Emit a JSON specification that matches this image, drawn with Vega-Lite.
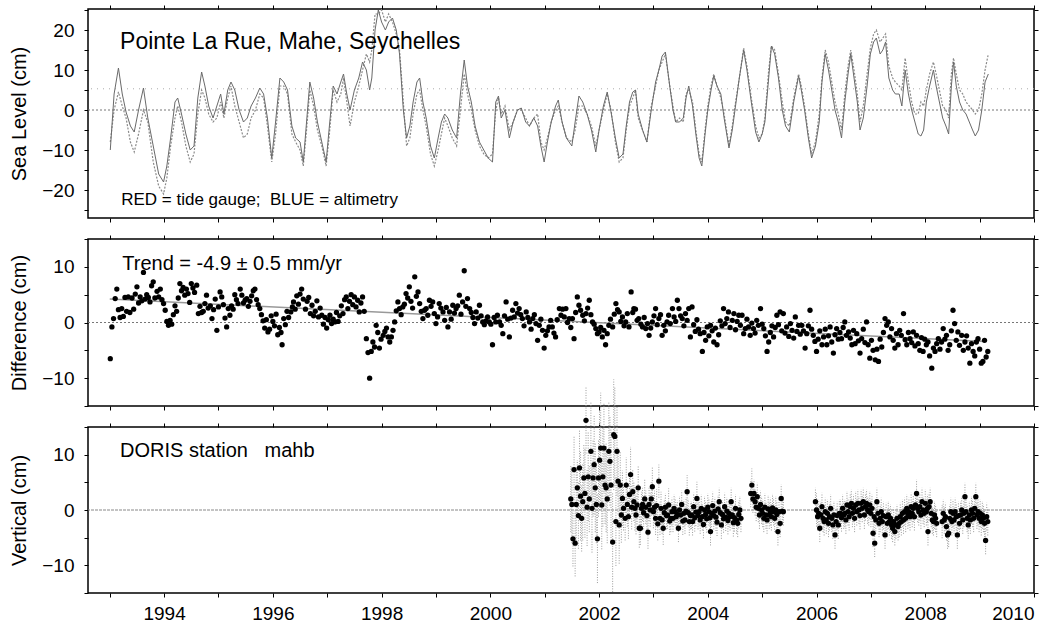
{
"$schema": "https://vega.github.io/schema/vega-lite/v6.json",
"autosize": {"type": "pad"},
"padding": {"left": 9, "top": 3, "right": 5, "bottom": 5},
"background": "white",
"bounds": "flush",
"spacing": 21,
"datasets": {
"sl": [
{"t":1993.01,"g":-10,"a":-8},{"t":1993.08,"g":4,"a":0},{"t":1993.16,"g":10.5,"a":4.5},{"t":1993.23,"g":4,"a":1},{"t":1993.3,"g":-0.5,"a":-2},{"t":1993.38,"g":-4,"a":-8},{"t":1993.45,"g":-5.5,"a":-10.5},{"t":1993.53,"g":0,"a":-6},{"t":1993.62,"g":5.5,"a":0},{"t":1993.7,"g":-2,"a":-3},{"t":1993.8,"g":-9,"a":-13},{"t":1993.9,"g":-16,"a":-19},{"t":1993.99,"g":-18,"a":-21},
{"t":1994.05,"g":-14,"a":-17},{"t":1994.12,"g":-7,"a":-9},{"t":1994.2,"g":2,"a":-2},{"t":1994.25,"g":3,"a":1},{"t":1994.32,"g":-1,"a":-3},{"t":1994.4,"g":-6,"a":-9},{"t":1994.48,"g":-10,"a":-13},{"t":1994.55,"g":-9,"a":-11},{"t":1994.62,"g":3,"a":-1},{"t":1994.69,"g":9.5,"a":5},{"t":1994.75,"g":6,"a":3},{"t":1994.82,"g":1,"a":-1},{"t":1994.9,"g":-2,"a":-3},{"t":1994.97,"g":1,"a":-2},
{"t":1995.04,"g":4,"a":2},{"t":1995.1,"g":-1,"a":-2},{"t":1995.17,"g":5,"a":3},{"t":1995.23,"g":7,"a":6},{"t":1995.3,"g":5,"a":1},{"t":1995.38,"g":0,"a":-3},{"t":1995.46,"g":-3,"a":-7},{"t":1995.53,"g":-2,"a":-6},{"t":1995.6,"g":1,"a":-2},{"t":1995.68,"g":3,"a":0},{"t":1995.76,"g":5.5,"a":4},{"t":1995.83,"g":4,"a":3},{"t":1995.9,"g":-2,"a":-4},{"t":1995.98,"g":-12,"a":-13},
{"t":1996.05,"g":-3,"a":-6},{"t":1996.13,"g":8,"a":6},{"t":1996.2,"g":7,"a":6},{"t":1996.27,"g":5,"a":4},{"t":1996.35,"g":-4,"a":-6},{"t":1996.42,"g":-7,"a":-8},{"t":1996.5,"g":-8,"a":-10},{"t":1996.56,"g":-13,"a":-14},{"t":1996.62,"g":-3,"a":-5},{"t":1996.68,"g":7,"a":5},{"t":1996.75,"g":3,"a":1},{"t":1996.82,"g":-3,"a":-5},{"t":1996.9,"g":-8,"a":-9},{"t":1996.98,"g":-13,"a":-14},
{"t":1997.04,"g":-4,"a":-6},{"t":1997.11,"g":6,"a":5},{"t":1997.18,"g":4,"a":2},{"t":1997.25,"g":7,"a":4},{"t":1997.3,"g":9,"a":8},{"t":1997.36,"g":4,"a":2},{"t":1997.42,"g":0,"a":-4},{"t":1997.5,"g":5,"a":2},{"t":1997.58,"g":8,"a":6},{"t":1997.65,"g":12,"a":10},{"t":1997.72,"g":10,"a":14},{"t":1997.78,"g":5,"a":12},{"t":1997.82,"g":8,"a":15},{"t":1997.88,"g":20,"a":24},{"t":1997.94,"g":25,"a":24},
{"t":1998.0,"g":22,"a":25},{"t":1998.07,"g":20,"a":22},{"t":1998.13,"g":22,"a":24},{"t":1998.2,"g":23,"a":22},{"t":1998.27,"g":20,"a":19},{"t":1998.33,"g":14,"a":15},{"t":1998.4,"g":0,"a":2},{"t":1998.46,"g":-7,"a":-9},{"t":1998.52,"g":-4,"a":-7},{"t":1998.58,"g":2,"a":-1},{"t":1998.65,"g":7,"a":4},{"t":1998.7,"g":8,"a":5},{"t":1998.76,"g":2,"a":0},{"t":1998.82,"g":-2,"a":-4},{"t":1998.9,"g":-9,"a":-11},{"t":1998.97,"g":-12,"a":-14},
{"t":1999.04,"g":-7,"a":-10},{"t":1999.1,"g":-3,"a":-6},{"t":1999.16,"g":-1,"a":-2},{"t":1999.22,"g":-2,"a":-4},{"t":1999.3,"g":-5,"a":-7},{"t":1999.38,"g":-7,"a":-9},{"t":1999.45,"g":4,"a":0},{"t":1999.52,"g":12.5,"a":9},{"t":1999.58,"g":6,"a":4},{"t":1999.65,"g":2,"a":0},{"t":1999.72,"g":-4,"a":-5},{"t":1999.8,"g":-8,"a":-9},{"t":1999.88,"g":-10,"a":-11},{"t":1999.96,"g":-12,"a":-12},
{"t":2000.04,"g":-13,"a":-11},{"t":2000.1,"g":2,"a":0},{"t":2000.15,"g":3.5,"a":3},{"t":2000.2,"g":-2,"a":-1},{"t":2000.27,"g":0,"a":1},{"t":2000.35,"g":-7,"a":-5},{"t":2000.42,"g":-3,"a":-3},{"t":2000.5,"g":0,"a":0},{"t":2000.57,"g":0.5,"a":0},{"t":2000.65,"g":-3,"a":-2},{"t":2000.72,"g":-4,"a":-4},{"t":2000.8,"g":-2,"a":-2},{"t":2000.87,"g":-4,"a":-1},{"t":2000.93,"g":-9,"a":-8},{"t":2000.99,"g":-13,"a":-10},
{"t":2001.05,"g":-8,"a":-7},{"t":2001.12,"g":-3,"a":-3},{"t":2001.2,"g":1,"a":0},{"t":2001.25,"g":2.5,"a":1},{"t":2001.32,"g":-3,"a":-3},{"t":2001.4,"g":-7,"a":-7},{"t":2001.5,"g":-9,"a":-8},{"t":2001.56,"g":-3,"a":-5},{"t":2001.63,"g":3.5,"a":1},{"t":2001.7,"g":2,"a":1},{"t":2001.78,"g":-1,"a":-1},{"t":2001.86,"g":-5,"a":-4},{"t":2001.94,"g":-10.5,"a":-9},
{"t":2002.0,"g":-5,"a":-5},{"t":2002.08,"g":1,"a":0},{"t":2002.15,"g":4.5,"a":4},{"t":2002.22,"g":-0.5,"a":0},{"t":2002.3,"g":-7,"a":-8},{"t":2002.37,"g":-12,"a":-13},{"t":2002.44,"g":-11,"a":-12},{"t":2002.5,"g":-4,"a":-5},{"t":2002.56,"g":2,"a":1},{"t":2002.62,"g":4.5,"a":3},{"t":2002.67,"g":5,"a":5},{"t":2002.72,"g":-1,"a":-2},{"t":2002.8,"g":-5,"a":-5},{"t":2002.88,"g":-8,"a":-8},{"t":2002.96,"g":0,"a":1},
{"t":2003.04,"g":7,"a":6},{"t":2003.1,"g":10,"a":10},{"t":2003.16,"g":13.5,"a":12},{"t":2003.22,"g":14.5,"a":14},{"t":2003.3,"g":6,"a":6},{"t":2003.36,"g":0,"a":1},{"t":2003.41,"g":-3,"a":-3},{"t":2003.48,"g":-3,"a":-2},{"t":2003.55,"g":-2,"a":-3},{"t":2003.6,"g":3,"a":4},{"t":2003.65,"g":6,"a":5},{"t":2003.72,"g":1,"a":2},{"t":2003.78,"g":-6,"a":-5},{"t":2003.84,"g":-12,"a":-11},{"t":2003.89,"g":-14,"a":-13},{"t":2003.95,"g":-6,"a":-5},
{"t":2004.0,"g":0,"a":1},{"t":2004.06,"g":5,"a":6},{"t":2004.11,"g":8.5,"a":9},{"t":2004.17,"g":6,"a":6},{"t":2004.24,"g":4,"a":3},{"t":2004.3,"g":-2,"a":-1},{"t":2004.39,"g":-9.5,"a":-9},{"t":2004.45,"g":-5,"a":-4},{"t":2004.5,"g":0,"a":1},{"t":2004.58,"g":8,"a":8},{"t":2004.66,"g":15,"a":15.5},{"t":2004.72,"g":10,"a":11},{"t":2004.8,"g":2,"a":3},{"t":2004.88,"g":-5.5,"a":-4},{"t":2004.94,"g":-8,"a":-7},
{"t":2005.0,"g":-6,"a":-6},{"t":2005.05,"g":-3,"a":-2},{"t":2005.12,"g":8,"a":10},{"t":2005.17,"g":16,"a":16},{"t":2005.23,"g":14,"a":15},{"t":2005.3,"g":8,"a":9},{"t":2005.37,"g":0,"a":2},{"t":2005.43,"g":-4,"a":-3},{"t":2005.5,"g":-5.5,"a":-4},{"t":2005.58,"g":2,"a":3},{"t":2005.67,"g":8.5,"a":9},{"t":2005.72,"g":5,"a":6},{"t":2005.78,"g":0,"a":1},{"t":2005.85,"g":-7,"a":-6},{"t":2005.91,"g":-12,"a":-11},{"t":2005.98,"g":-9,"a":-8},
{"t":2006.05,"g":-3,"a":-1},{"t":2006.1,"g":7,"a":8},{"t":2006.16,"g":14,"a":15},{"t":2006.22,"g":10,"a":12},{"t":2006.28,"g":5,"a":7},{"t":2006.34,"g":0,"a":2},{"t":2006.4,"g":-3,"a":-1},{"t":2006.46,"g":-7,"a":-5},{"t":2006.52,"g":2,"a":4},{"t":2006.58,"g":9,"a":11},{"t":2006.63,"g":14,"a":15},{"t":2006.69,"g":8,"a":10},{"t":2006.75,"g":2,"a":4},{"t":2006.8,"g":-5,"a":-3},{"t":2006.86,"g":-2,"a":1},{"t":2006.93,"g":6,"a":9},{"t":2006.99,"g":14,"a":15.5},
{"t":2007.05,"g":17,"a":19},{"t":2007.1,"g":18,"a":20},{"t":2007.17,"g":14,"a":17},{"t":2007.22,"g":15,"a":18},{"t":2007.27,"g":17,"a":19},{"t":2007.33,"g":8,"a":11},{"t":2007.4,"g":5,"a":8},{"t":2007.45,"g":4,"a":7},{"t":2007.52,"g":4,"a":6},{"t":2007.57,"g":1,"a":5},{"t":2007.63,"g":10,"a":13},{"t":2007.69,"g":4,"a":7},{"t":2007.75,"g":0,"a":2},{"t":2007.81,"g":-3,"a":-1},{"t":2007.87,"g":-6,"a":-1},{"t":2007.92,"g":-6.5,"a":2},{"t":2007.97,"g":-5,"a":1},
{"t":2008.02,"g":2,"a":5},{"t":2008.08,"g":6,"a":9},{"t":2008.15,"g":10,"a":12},{"t":2008.2,"g":6,"a":9},{"t":2008.26,"g":2,"a":5},{"t":2008.32,"g":-2,"a":1},{"t":2008.38,"g":-4,"a":0},{"t":2008.43,"g":-6,"a":-2},{"t":2008.48,"g":6,"a":9},{"t":2008.52,"g":12,"a":13},{"t":2008.57,"g":6,"a":9},{"t":2008.63,"g":2,"a":5},{"t":2008.69,"g":0,"a":4},{"t":2008.75,"g":-1,"a":2},{"t":2008.81,"g":-3,"a":1},{"t":2008.87,"g":-5,"a":0},{"t":2008.92,"g":-6.5,"a":-1},{"t":2008.98,"g":-5,"a":0},
{"t":2009.04,"g":0,"a":4},{"t":2009.1,"g":7,"a":10},{"t":2009.16,"g":9,"a":14}
],
"diff": [
{"t":1993.01,"d":-6.5},{"t":1993.04,"d":-0.8},{"t":1993.07,"d":0.7},{"t":1993.10,"d":4.3},{"t":1993.13,"d":6.0},{"t":1993.16,"d":2.3},{"t":1993.19,"d":0.9},{"t":1993.22,"d":2.5},{"t":1993.25,"d":1.1},{"t":1993.28,"d":4.5},{"t":1993.31,"d":2.0},{"t":1993.34,"d":4.6},{"t":1993.37,"d":1.8},{"t":1993.41,"d":4.4},{"t":1993.44,"d":2.4},{"t":1993.47,"d":5.1},{"t":1993.50,"d":6.4},{"t":1993.53,"d":3.5},{"t":1993.56,"d":4.6},{"t":1993.59,"d":3.9},{"t":1993.62,"d":9.0},{"t":1993.65,"d":4.2},{"t":1993.68,"d":5.0},{"t":1993.71,"d":4.5},{"t":1993.74,"d":3.7},{"t":1993.77,"d":6.6},{"t":1993.80,"d":7.3},{"t":1993.83,"d":4.4},{"t":1993.87,"d":5.6},{"t":1993.90,"d":4.6},{"t":1993.93,"d":6.0},{"t":1993.96,"d":4.1},{"t":1993.99,"d":3.4},
{"t":1994.02,"d":2.2},{"t":1994.05,"d":0.2},{"t":1994.08,"d":-0.5},{"t":1994.11,"d":0.4},{"t":1994.14,"d":-0.3},{"t":1994.17,"d":1.4},{"t":1994.20,"d":3.0},{"t":1994.23,"d":2.0},{"t":1994.26,"d":4.4},{"t":1994.29,"d":7.0},{"t":1994.32,"d":5.7},{"t":1994.35,"d":6.3},{"t":1994.38,"d":4.9},{"t":1994.41,"d":6.0},{"t":1994.44,"d":5.2},{"t":1994.47,"d":3.6},{"t":1994.50,"d":7.0},{"t":1994.53,"d":6.2},{"t":1994.56,"d":5.4},{"t":1994.60,"d":6.7},{"t":1994.63,"d":1.6},{"t":1994.66,"d":2.9},{"t":1994.69,"d":1.8},{"t":1994.72,"d":2.0},{"t":1994.75,"d":3.4},{"t":1994.78,"d":4.9},{"t":1994.81,"d":2.6},{"t":1994.85,"d":3.0},{"t":1994.88,"d":0.7},{"t":1994.91,"d":2.3},{"t":1994.94,"d":4.2},{"t":1994.97,"d":-1.4},
{"t":1995.00,"d":2.8},{"t":1995.03,"d":5.5},{"t":1995.06,"d":4.6},{"t":1995.09,"d":3.2},{"t":1995.12,"d":0.8},{"t":1995.15,"d":-0.8},{"t":1995.18,"d":2.5},{"t":1995.21,"d":1.3},{"t":1995.24,"d":3.0},{"t":1995.27,"d":2.4},{"t":1995.30,"d":5.0},{"t":1995.33,"d":4.1},{"t":1995.36,"d":3.4},{"t":1995.40,"d":6.0},{"t":1995.43,"d":4.9},{"t":1995.46,"d":3.5},{"t":1995.49,"d":4.0},{"t":1995.52,"d":4.3},{"t":1995.55,"d":2.9},{"t":1995.58,"d":3.8},{"t":1995.61,"d":4.8},{"t":1995.64,"d":5.7},{"t":1995.67,"d":6.0},{"t":1995.70,"d":4.1},{"t":1995.73,"d":3.2},{"t":1995.76,"d":2.5},{"t":1995.79,"d":1.4},{"t":1995.82,"d":0.3},{"t":1995.85,"d":-1.0},{"t":1995.88,"d":0.5},{"t":1995.91,"d":-1.7},{"t":1995.94,"d":-1.2},{"t":1995.97,"d":1.2},
{"t":1996.00,"d":0.2},{"t":1996.03,"d":-0.6},{"t":1996.06,"d":1.5},{"t":1996.09,"d":-2.2},{"t":1996.12,"d":-0.9},{"t":1996.15,"d":-1.8},{"t":1996.17,"d":-4.0},{"t":1996.20,"d":0.7},{"t":1996.23,"d":-0.4},{"t":1996.26,"d":2.0},{"t":1996.29,"d":0.9},{"t":1996.33,"d":1.9},{"t":1996.36,"d":2.8},{"t":1996.38,"d":3.7},{"t":1996.41,"d":2.4},{"t":1996.44,"d":4.8},{"t":1996.47,"d":3.3},{"t":1996.50,"d":5.1},{"t":1996.53,"d":6.0},{"t":1996.56,"d":4.2},{"t":1996.60,"d":2.4},{"t":1996.63,"d":3.8},{"t":1996.66,"d":4.5},{"t":1996.69,"d":1.6},{"t":1996.72,"d":3.1},{"t":1996.75,"d":1.2},{"t":1996.78,"d":2.0},{"t":1996.81,"d":3.9},{"t":1996.84,"d":1.0},{"t":1996.87,"d":2.6},{"t":1996.90,"d":1.3},{"t":1996.93,"d":-0.3},{"t":1996.96,"d":0.9},{"t":1996.99,"d":-1.0},
{"t":1997.02,"d":0.5},{"t":1997.05,"d":1.3},{"t":1997.08,"d":-0.2},{"t":1997.11,"d":0.6},{"t":1997.14,"d":0.1},{"t":1997.17,"d":1.8},{"t":1997.20,"d":0.2},{"t":1997.23,"d":1.2},{"t":1997.26,"d":3.0},{"t":1997.29,"d":1.6},{"t":1997.32,"d":4.1},{"t":1997.35,"d":4.6},{"t":1997.38,"d":2.5},{"t":1997.41,"d":3.8},{"t":1997.44,"d":5.0},{"t":1997.47,"d":3.2},{"t":1997.50,"d":4.6},{"t":1997.53,"d":2.8},{"t":1997.56,"d":4.0},{"t":1997.59,"d":1.9},{"t":1997.62,"d":3.5},{"t":1997.65,"d":4.6},{"t":1997.68,"d":2.0},{"t":1997.72,"d":-2.9},{"t":1997.75,"d":-5.4},{"t":1997.78,"d":-10.0},{"t":1997.81,"d":-5.2},{"t":1997.84,"d":-3.5},{"t":1997.87,"d":-4.4},{"t":1997.90,"d":-0.5},{"t":1997.93,"d":-1.8},{"t":1997.96,"d":-4.6},{"t":1997.99,"d":-3.0},
{"t":1998.03,"d":-2.3},{"t":1998.06,"d":-1.6},{"t":1998.09,"d":-1.0},{"t":1998.12,"d":-2.6},{"t":1998.15,"d":-3.5},{"t":1998.18,"d":-2.6},{"t":1998.21,"d":-1.4},{"t":1998.24,"d":0.1},{"t":1998.27,"d":2.1},{"t":1998.30,"d":3.7},{"t":1998.33,"d":2.5},{"t":1998.36,"d":1.4},{"t":1998.39,"d":2.8},{"t":1998.42,"d":3.3},{"t":1998.45,"d":5.2},{"t":1998.48,"d":4.4},{"t":1998.51,"d":6.4},{"t":1998.54,"d":3.8},{"t":1998.57,"d":2.6},{"t":1998.61,"d":8.2},{"t":1998.64,"d":4.7},{"t":1998.67,"d":5.5},{"t":1998.70,"d":3.4},{"t":1998.73,"d":2.0},{"t":1998.76,"d":0.7},{"t":1998.79,"d":2.2},{"t":1998.82,"d":2.5},{"t":1998.85,"d":1.3},{"t":1998.88,"d":4.0},{"t":1998.91,"d":2.9},{"t":1998.94,"d":3.7},{"t":1998.97,"d":1.6},{"t":1999.00,"d":-0.2},
{"t":1999.03,"d":1.0},{"t":1999.06,"d":3.4},{"t":1999.09,"d":2.6},{"t":1999.13,"d":1.9},{"t":1999.16,"d":0.4},{"t":1999.19,"d":2.7},{"t":1999.22,"d":-0.8},{"t":1999.25,"d":1.9},{"t":1999.28,"d":0.6},{"t":1999.31,"d":3.1},{"t":1999.34,"d":1.7},{"t":1999.37,"d":2.5},{"t":1999.40,"d":3.0},{"t":1999.43,"d":4.9},{"t":1999.46,"d":1.5},{"t":1999.49,"d":3.7},{"t":1999.52,"d":9.3},{"t":1999.55,"d":2.9},{"t":1999.58,"d":4.3},{"t":1999.62,"d":2.5},{"t":1999.65,"d":1.8},{"t":1999.68,"d":0.9},{"t":1999.71,"d":-0.2},{"t":1999.74,"d":1.9},{"t":1999.77,"d":0.8},{"t":1999.80,"d":3.1},{"t":1999.83,"d":1.2},{"t":1999.86,"d":0.1},{"t":1999.89,"d":-0.4},{"t":1999.92,"d":0.3},{"t":1999.95,"d":1.0},{"t":1999.98,"d":0.1},
{"t":2000.01,"d":-0.3},{"t":2000.04,"d":-4.0},{"t":2000.07,"d":0.9},{"t":2000.10,"d":0.1},{"t":2000.13,"d":1.3},{"t":2000.17,"d":0.1},{"t":2000.20,"d":-0.5},{"t":2000.23,"d":-2.0},{"t":2000.26,"d":1.2},{"t":2000.29,"d":3.7},{"t":2000.32,"d":0.6},{"t":2000.35,"d":-2.6},{"t":2000.38,"d":0.8},{"t":2000.41,"d":2.2},{"t":2000.44,"d":1.0},{"t":2000.47,"d":3.4},{"t":2000.50,"d":1.7},{"t":2000.53,"d":2.5},{"t":2000.56,"d":1.4},{"t":2000.59,"d":0.7},{"t":2000.62,"d":-0.6},{"t":2000.66,"d":1.9},{"t":2000.69,"d":0.9},{"t":2000.72,"d":0.1},{"t":2000.75,"d":-1.2},{"t":2000.78,"d":0.7},{"t":2000.81,"d":1.4},{"t":2000.84,"d":-0.2},{"t":2000.87,"d":-3.2},{"t":2000.90,"d":-0.5},{"t":2000.93,"d":0.6},{"t":2000.96,"d":-1.4},{"t":2000.99,"d":-4.6},
{"t":2001.02,"d":-2.3},{"t":2001.05,"d":-1.5},{"t":2001.08,"d":-0.8},{"t":2001.11,"d":0.4},{"t":2001.14,"d":-0.8},{"t":2001.17,"d":-1.9},{"t":2001.20,"d":-2.6},{"t":2001.23,"d":0.5},{"t":2001.27,"d":2.5},{"t":2001.30,"d":1.3},{"t":2001.33,"d":2.4},{"t":2001.36,"d":1.0},{"t":2001.39,"d":2.5},{"t":2001.42,"d":0.0},{"t":2001.45,"d":0.7},{"t":2001.48,"d":-0.9},{"t":2001.51,"d":0.7},{"t":2001.54,"d":-2.9},{"t":2001.57,"d":1.8},{"t":2001.60,"d":4.6},{"t":2001.63,"d":3.1},{"t":2001.66,"d":2.2},{"t":2001.70,"d":1.3},{"t":2001.73,"d":0.3},{"t":2001.76,"d":1.6},{"t":2001.79,"d":2.6},{"t":2001.82,"d":4.0},{"t":2001.85,"d":1.4},{"t":2001.88,"d":0.1},{"t":2001.91,"d":-0.3},{"t":2001.94,"d":-1.1},{"t":2001.97,"d":-2.0},
{"t":2002.00,"d":-1.7},{"t":2002.03,"d":-0.9},{"t":2002.06,"d":-2.6},{"t":2002.09,"d":-1.4},{"t":2002.12,"d":-4.0},{"t":2002.15,"d":-2.0},{"t":2002.18,"d":-0.5},{"t":2002.21,"d":0.6},{"t":2002.25,"d":-0.8},{"t":2002.28,"d":1.5},{"t":2002.31,"d":3.4},{"t":2002.34,"d":2.3},{"t":2002.37,"d":1.9},{"t":2002.40,"d":0.2},{"t":2002.43,"d":1.0},{"t":2002.46,"d":-0.6},{"t":2002.49,"d":0.1},{"t":2002.52,"d":1.6},{"t":2002.55,"d":-0.8},{"t":2002.59,"d":5.5},{"t":2002.62,"d":1.8},{"t":2002.64,"d":2.5},{"t":2002.67,"d":2.4},{"t":2002.70,"d":0.4},{"t":2002.73,"d":0.7},{"t":2002.77,"d":-0.3},{"t":2002.80,"d":-0.8},{"t":2002.83,"d":0.9},{"t":2002.86,"d":-1.1},{"t":2002.89,"d":-0.2},{"t":2002.92,"d":-2.3},{"t":2002.95,"d":-1.0},{"t":2002.98,"d":0.1},
{"t":2003.01,"d":1.2},{"t":2003.04,"d":2.5},{"t":2003.07,"d":-0.4},{"t":2003.10,"d":0.7},{"t":2003.13,"d":1.4},{"t":2003.16,"d":-2.3},{"t":2003.19,"d":-0.5},{"t":2003.22,"d":-1.5},{"t":2003.25,"d":0.1},{"t":2003.28,"d":1.3},{"t":2003.31,"d":-0.2},{"t":2003.35,"d":2.5},{"t":2003.38,"d":1.0},{"t":2003.41,"d":0.2},{"t":2003.44,"d":4.0},{"t":2003.47,"d":2.5},{"t":2003.50,"d":1.2},{"t":2003.53,"d":0.7},{"t":2003.56,"d":-0.6},{"t":2003.59,"d":1.6},{"t":2003.62,"d":0.4},{"t":2003.65,"d":2.5},{"t":2003.68,"d":-2.6},{"t":2003.71,"d":2.8},{"t":2003.74,"d":-0.4},{"t":2003.77,"d":-1.6},{"t":2003.80,"d":0.5},{"t":2003.83,"d":-1.2},{"t":2003.86,"d":-2.0},{"t":2003.90,"d":-5.2},{"t":2003.93,"d":-1.8},{"t":2003.96,"d":-3.2},{"t":2003.99,"d":-0.8},
{"t":2004.02,"d":-2.4},{"t":2004.05,"d":-0.5},{"t":2004.08,"d":-1.5},{"t":2004.11,"d":-3.5},{"t":2004.14,"d":-1.0},{"t":2004.17,"d":-4.0},{"t":2004.20,"d":-2.2},{"t":2004.23,"d":0.3},{"t":2004.26,"d":-0.6},{"t":2004.29,"d":2.5},{"t":2004.32,"d":-0.2},{"t":2004.35,"d":0.7},{"t":2004.38,"d":1.9},{"t":2004.41,"d":-0.9},{"t":2004.45,"d":0.4},{"t":2004.48,"d":1.6},{"t":2004.51,"d":-1.3},{"t":2004.54,"d":0.2},{"t":2004.57,"d":1.3},{"t":2004.60,"d":-0.5},{"t":2004.63,"d":1.3},{"t":2004.66,"d":-2.0},{"t":2004.69,"d":-1.1},{"t":2004.72,"d":0.6},{"t":2004.75,"d":-0.8},{"t":2004.78,"d":-2.3},{"t":2004.81,"d":-0.1},{"t":2004.84,"d":-1.1},{"t":2004.87,"d":-1.9},{"t":2004.90,"d":0.4},{"t":2004.93,"d":-0.5},{"t":2004.97,"d":2.5},
{"t":2005.00,"d":-0.3},{"t":2005.03,"d":-1.1},{"t":2005.06,"d":-2.4},{"t":2005.09,"d":-5.2},{"t":2005.12,"d":-3.5},{"t":2005.15,"d":-1.8},{"t":2005.18,"d":-0.6},{"t":2005.21,"d":-2.6},{"t":2005.24,"d":-0.9},{"t":2005.27,"d":1.3},{"t":2005.30,"d":-0.4},{"t":2005.33,"d":1.9},{"t":2005.36,"d":-1.5},{"t":2005.39,"d":1.6},{"t":2005.42,"d":-1.9},{"t":2005.45,"d":-0.8},{"t":2005.49,"d":-2.5},{"t":2005.52,"d":-0.2},{"t":2005.55,"d":-1.4},{"t":2005.58,"d":-2.8},{"t":2005.61,"d":1.0},{"t":2005.64,"d":-1.6},{"t":2005.67,"d":-0.5},{"t":2005.70,"d":-2.1},{"t":2005.73,"d":-0.5},{"t":2005.76,"d":-1.5},{"t":2005.79,"d":-4.6},{"t":2005.82,"d":-2.0},{"t":2005.85,"d":-0.6},{"t":2005.88,"d":2.2},{"t":2005.91,"d":-1.2},{"t":2005.94,"d":-2.3},{"t":2005.97,"d":-3.4},
{"t":2006.00,"d":-5.2},{"t":2006.03,"d":-3.0},{"t":2006.06,"d":-1.5},{"t":2006.10,"d":-4.0},{"t":2006.13,"d":-2.6},{"t":2006.16,"d":-1.2},{"t":2006.19,"d":-4.0},{"t":2006.22,"d":-2.4},{"t":2006.25,"d":-0.8},{"t":2006.28,"d":-3.5},{"t":2006.31,"d":-5.5},{"t":2006.34,"d":-2.2},{"t":2006.37,"d":-1.1},{"t":2006.40,"d":-3.0},{"t":2006.43,"d":-1.8},{"t":2006.46,"d":-2.9},{"t":2006.49,"d":-0.9},{"t":2006.52,"d":0.1},{"t":2006.55,"d":-2.3},{"t":2006.59,"d":-1.7},{"t":2006.62,"d":-2.8},{"t":2006.65,"d":-4.0},{"t":2006.68,"d":-1.4},{"t":2006.71,"d":-3.8},{"t":2006.74,"d":-2.0},{"t":2006.77,"d":-3.3},{"t":2006.80,"d":-5.5},{"t":2006.83,"d":-2.9},{"t":2006.86,"d":-1.2},{"t":2006.89,"d":-3.6},{"t":2006.92,"d":0.1},{"t":2006.95,"d":-4.0},{"t":2006.98,"d":-6.4},
{"t":2007.01,"d":-3.2},{"t":2007.04,"d":-5.0},{"t":2007.08,"d":-6.7},{"t":2007.11,"d":-4.8},{"t":2007.14,"d":-7.0},{"t":2007.17,"d":-3.0},{"t":2007.20,"d":-4.4},{"t":2007.23,"d":-1.8},{"t":2007.26,"d":0.7},{"t":2007.29,"d":-0.5},{"t":2007.32,"d":0.1},{"t":2007.35,"d":-2.6},{"t":2007.38,"d":-1.1},{"t":2007.41,"d":-3.2},{"t":2007.44,"d":-4.6},{"t":2007.47,"d":-2.0},{"t":2007.50,"d":-4.0},{"t":2007.53,"d":-1.4},{"t":2007.56,"d":-2.3},{"t":2007.60,"d":1.6},{"t":2007.63,"d":-3.1},{"t":2007.66,"d":-4.0},{"t":2007.69,"d":-1.8},{"t":2007.72,"d":-2.9},{"t":2007.75,"d":-3.6},{"t":2007.78,"d":-1.7},{"t":2007.81,"d":-4.2},{"t":2007.84,"d":-2.3},{"t":2007.87,"d":-3.8},{"t":2007.90,"d":-5.0},{"t":2007.93,"d":-2.7},{"t":2007.96,"d":-5.2},{"t":2007.99,"d":-3.0},
{"t":2008.02,"d":-4.0},{"t":2008.05,"d":-3.5},{"t":2008.08,"d":-6.0},{"t":2008.12,"d":-8.2},{"t":2008.15,"d":-4.6},{"t":2008.18,"d":-5.2},{"t":2008.21,"d":-3.8},{"t":2008.24,"d":-2.9},{"t":2008.27,"d":-4.8},{"t":2008.30,"d":-3.5},{"t":2008.33,"d":-1.1},{"t":2008.36,"d":-3.0},{"t":2008.39,"d":-2.3},{"t":2008.42,"d":-5.0},{"t":2008.45,"d":-4.0},{"t":2008.48,"d":-1.5},{"t":2008.51,"d":2.2},{"t":2008.54,"d":-0.2},{"t":2008.57,"d":-3.2},{"t":2008.60,"d":-1.7},{"t":2008.63,"d":-4.1},{"t":2008.67,"d":-2.3},{"t":2008.70,"d":-5.0},{"t":2008.73,"d":-3.5},{"t":2008.76,"d":-2.4},{"t":2008.79,"d":-4.6},{"t":2008.82,"d":-7.3},{"t":2008.85,"d":-3.8},{"t":2008.88,"d":-5.2},{"t":2008.91,"d":-6.0},{"t":2008.94,"d":-3.5},{"t":2008.97,"d":-2.9},{"t":2009.00,"d":-4.8},
{"t":2009.03,"d":-7.3},{"t":2009.06,"d":-7.0},{"t":2009.09,"d":-3.2},{"t":2009.12,"d":-6.2},{"t":2009.15,"d":-5.2}
],
"trend": [{"t":1993.0,"d":4.2},{"t":2009.1,"d":-3.4}],
"doris": [
{"t":2001.48,"v":2.0,"e":6},{"t":2001.50,"v":1.0,"e":7},{"t":2001.52,"v":-5.2,"e":5},{"t":2001.54,"v":7.3,"e":6},{"t":2001.56,"v":-6.0,"e":6},{"t":2001.58,"v":1.0,"e":7},{"t":2001.60,"v":4.0,"e":5},{"t":2001.62,"v":-1.0,"e":6},{"t":2001.64,"v":7.6,"e":7},{"t":2001.66,"v":2.5,"e":8},{"t":2001.68,"v":-1.5,"e":6},{"t":2001.70,"v":1.5,"e":7},{"t":2001.72,"v":5.8,"e":6},{"t":2001.74,"v":3.0,"e":8},{"t":2001.76,"v":16.2,"e":6},{"t":2001.78,"v":0.5,"e":7},{"t":2001.80,"v":6.0,"e":8},{"t":2001.82,"v":2.0,"e":6},{"t":2001.85,"v":10.6,"e":9},{"t":2001.87,"v":0.3,"e":8},{"t":2001.89,"v":5.8,"e":7},{"t":2001.91,"v":8.2,"e":9},{"t":2001.93,"v":4.0,"e":8},{"t":2001.95,"v":1.0,"e":7},{"t":2001.97,"v":-5.2,"e":8},{"t":2001.99,"v":5.8,"e":7},
{"t":2002.01,"v":9.0,"e":9},{"t":2002.03,"v":11.2,"e":10},{"t":2002.05,"v":0.9,"e":8},{"t":2002.07,"v":6.0,"e":9},{"t":2002.09,"v":11.2,"e":8},{"t":2002.11,"v":4.5,"e":7},{"t":2002.13,"v":4.0,"e":8},{"t":2002.15,"v":2.0,"e":8},{"t":2002.18,"v":10.6,"e":9},{"t":2002.20,"v":8.8,"e":8},{"t":2002.22,"v":4.5,"e":10},{"t":2002.25,"v":-5.8,"e":9},{"t":2002.27,"v":13.6,"e":10},{"t":2002.29,"v":13.3,"e":9},{"t":2002.31,"v":-2.1,"e":8},{"t":2002.33,"v":10.6,"e":8},{"t":2002.35,"v":5.2,"e":6},{"t":2002.37,"v":-2.7,"e":7},{"t":2002.39,"v":4.5,"e":6},{"t":2002.41,"v":-0.9,"e":5},{"t":2002.43,"v":2.1,"e":5},{"t":2002.45,"v":0.3,"e":4},{"t":2002.48,"v":-1.5,"e":4},{"t":2002.50,"v":4.5,"e":5},{"t":2002.52,"v":1.0,"e":4},{"t":2002.54,"v":-1.2,"e":4},{"t":2002.56,"v":2.8,"e":4},{"t":2002.58,"v":6.4,"e":5},{"t":2002.60,"v":0.5,"e":4},{"t":2002.62,"v":3.3,"e":4},{"t":2002.64,"v":1.5,"e":3.5},{"t":2002.66,"v":0.3,"e":4},{"t":2002.68,"v":-0.9,"e":3.5},{"t":2002.70,"v":0.9,"e":3.5},{"t":2002.72,"v":4.0,"e":4},{"t":2002.74,"v":-3.3,"e":3.5},{"t":2002.76,"v":-3.3,"e":3},{"t":2002.78,"v":0.3,"e":3},{"t":2002.80,"v":1.0,"e":3},{"t":2002.82,"v":-0.5,"e":3},{"t":2002.84,"v":2.0,"e":3.5},{"t":2002.86,"v":0.5,"e":3},{"t":2002.88,"v":-1.0,"e":3},{"t":2002.90,"v":-4.0,"e":3},{"t":2002.92,"v":1.0,"e":3},{"t":2002.94,"v":0.0,"e":3},{"t":2002.96,"v":2.0,"e":3},{"t":2002.98,"v":4.2,"e":3.5},
{"t":2003.00,"v":-0.3,"e":3},{"t":2003.02,"v":0.5,"e":3},{"t":2003.04,"v":-1.5,"e":3},{"t":2003.06,"v":0.8,"e":3},{"t":2003.08,"v":-2.5,"e":3},{"t":2003.10,"v":5.2,"e":3},{"t":2003.12,"v":-1.5,"e":3},{"t":2003.14,"v":0.3,"e":3},{"t":2003.16,"v":-1.8,"e":2.5},{"t":2003.18,"v":-3.3,"e":3},{"t":2003.20,"v":-0.5,"e":2.5},{"t":2003.22,"v":0.5,"e":2.5},{"t":2003.24,"v":-1.0,"e":2.5},{"t":2003.26,"v":-0.9,"e":2.5},{"t":2003.28,"v":0.9,"e":3},{"t":2003.30,"v":-2.0,"e":2.5},{"t":2003.32,"v":-1.5,"e":2.5},{"t":2003.34,"v":-0.3,"e":2.5},{"t":2003.36,"v":-1.5,"e":2.5},{"t":2003.38,"v":0.3,"e":2.5},{"t":2003.40,"v":-0.3,"e":2.5},{"t":2003.42,"v":-1.2,"e":2.5},{"t":2003.44,"v":-0.8,"e":2.5},{"t":2003.46,"v":-3.3,"e":2.5},{"t":2003.48,"v":0.0,"e":2.5},{"t":2003.50,"v":-0.9,"e":2.5},{"t":2003.52,"v":1.0,"e":2.5},{"t":2003.54,"v":-2.0,"e":2.5},{"t":2003.56,"v":-0.6,"e":2.5},{"t":2003.58,"v":-1.8,"e":2.5},{"t":2003.60,"v":-0.2,"e":2.5},{"t":2003.62,"v":3.3,"e":3},{"t":2003.64,"v":-0.5,"e":2.5},{"t":2003.66,"v":-2.1,"e":2.5},{"t":2003.68,"v":-1.0,"e":2.5},{"t":2003.70,"v":-0.9,"e":2.5},{"t":2003.72,"v":-2.1,"e":2.5},{"t":2003.74,"v":0.6,"e":2.5},{"t":2003.76,"v":-1.4,"e":2.5},{"t":2003.78,"v":-0.4,"e":2.5},{"t":2003.80,"v":2.1,"e":3},{"t":2003.82,"v":-1.0,"e":2.5},{"t":2003.84,"v":-0.3,"e":2.5},{"t":2003.86,"v":-1.8,"e":2.5},{"t":2003.88,"v":0.3,"e":2.5},{"t":2003.90,"v":-1.2,"e":2.5},{"t":2003.92,"v":-2.6,"e":2.5},{"t":2003.94,"v":0.0,"e":2.5},{"t":2003.96,"v":-0.8,"e":2.5},{"t":2003.98,"v":-1.6,"e":2.5},
{"t":2004.00,"v":0.5,"e":2.5},{"t":2004.02,"v":-0.3,"e":2.5},{"t":2004.04,"v":-1.4,"e":2.5},{"t":2004.05,"v":-3.9,"e":2.5},{"t":2004.07,"v":-0.6,"e":2.5},{"t":2004.09,"v":0.8,"e":2.5},{"t":2004.11,"v":-1.0,"e":2.5},{"t":2004.13,"v":-0.2,"e":2.5},{"t":2004.15,"v":-1.3,"e":2.5},{"t":2004.17,"v":-2.2,"e":2.5},{"t":2004.19,"v":0.2,"e":2.5},{"t":2004.21,"v":1.5,"e":2.5},{"t":2004.23,"v":-0.5,"e":2.5},{"t":2004.25,"v":-2.7,"e":2.5},{"t":2004.27,"v":-0.8,"e":2.5},{"t":2004.29,"v":-1.6,"e":2.5},{"t":2004.31,"v":0.6,"e":2.5},{"t":2004.33,"v":-1.3,"e":2.5},{"t":2004.35,"v":-0.2,"e":2.5},{"t":2004.37,"v":-1.9,"e":2.5},{"t":2004.39,"v":-0.6,"e":2.5},{"t":2004.41,"v":-1.2,"e":2.5},{"t":2004.43,"v":1.5,"e":2.5},{"t":2004.45,"v":-0.9,"e":2.5},{"t":2004.47,"v":-2.3,"e":2.5},{"t":2004.49,"v":-1.4,"e":2.5},{"t":2004.51,"v":0.3,"e":2.5},{"t":2004.53,"v":-1.8,"e":2.5},{"t":2004.55,"v":-2.4,"e":2.5},{"t":2004.57,"v":-0.8,"e":2.5},{"t":2004.59,"v":0.0,"e":2.5},{"t":2004.61,"v":-1.5,"e":2.5},
{"t":2004.79,"v":3.0,"e":2.5},{"t":2004.81,"v":4.5,"e":3},{"t":2004.83,"v":2.0,"e":2.5},{"t":2004.85,"v":3.0,"e":2.5},{"t":2004.87,"v":1.5,"e":2.5},{"t":2004.89,"v":0.5,"e":2.5},{"t":2004.91,"v":2.4,"e":2.5},{"t":2004.93,"v":0.3,"e":2.5},{"t":2004.95,"v":-0.9,"e":2.5},{"t":2004.97,"v":1.0,"e":2.5},{"t":2004.99,"v":0.0,"e":2.5},{"t":2005.01,"v":-0.6,"e":2.5},{"t":2005.03,"v":-1.5,"e":2.5},{"t":2005.05,"v":0.5,"e":2.5},{"t":2005.07,"v":-0.9,"e":2.5},{"t":2005.09,"v":-1.8,"e":2.5},{"t":2005.11,"v":0.2,"e":2.5},{"t":2005.13,"v":-0.9,"e":2.5},{"t":2005.15,"v":-0.3,"e":2.5},{"t":2005.17,"v":-1.2,"e":2.5},{"t":2005.19,"v":0.4,"e":2.5},{"t":2005.21,"v":-0.3,"e":2.5},{"t":2005.23,"v":-1.5,"e":2.5},{"t":2005.25,"v":0.0,"e":2.5},{"t":2005.27,"v":-0.8,"e":2.5},{"t":2005.29,"v":-3.9,"e":2.5},{"t":2005.31,"v":-0.3,"e":2.5},{"t":2005.33,"v":-2.4,"e":2.5},{"t":2005.35,"v":2.1,"e":2.5},{"t":2005.37,"v":-0.2,"e":2.5},{"t":2005.39,"v":-0.3,"e":2.5},
{"t":2005.98,"v":1.5,"e":2.5},{"t":2006.00,"v":0.0,"e":3},{"t":2006.02,"v":-1.2,"e":2.5},{"t":2006.04,"v":-0.6,"e":2.5},{"t":2006.06,"v":-3.3,"e":2.5},{"t":2006.08,"v":-0.9,"e":2.5},{"t":2006.10,"v":0.6,"e":2.5},{"t":2006.12,"v":-1.5,"e":2.5},{"t":2006.14,"v":-2.1,"e":2.5},{"t":2006.16,"v":-0.3,"e":2.5},{"t":2006.18,"v":-1.8,"e":2.5},{"t":2006.20,"v":-0.6,"e":2.5},{"t":2006.22,"v":-2.4,"e":2.5},{"t":2006.24,"v":-1.2,"e":2.5},{"t":2006.26,"v":0.3,"e":2.5},{"t":2006.28,"v":-1.5,"e":2.5},{"t":2006.30,"v":-2.7,"e":2.5},{"t":2006.32,"v":-0.9,"e":2.5},{"t":2006.34,"v":-4.5,"e":2.5},{"t":2006.36,"v":-2.1,"e":2.5},{"t":2006.38,"v":-1.0,"e":2.5},{"t":2006.40,"v":-2.7,"e":2.5},{"t":2006.42,"v":-0.6,"e":2.5},{"t":2006.44,"v":-0.6,"e":2.5},{"t":2006.46,"v":-1.4,"e":2.5},{"t":2006.48,"v":0.3,"e":2.5},{"t":2006.50,"v":-0.9,"e":2.5},{"t":2006.52,"v":-0.6,"e":2.5},{"t":2006.54,"v":-1.8,"e":2.5},{"t":2006.56,"v":0.9,"e":2.5},{"t":2006.58,"v":-0.3,"e":2.5},{"t":2006.60,"v":-1.2,"e":2.5},{"t":2006.62,"v":0.6,"e":2.5},{"t":2006.64,"v":1.2,"e":2.5},{"t":2006.66,"v":-0.6,"e":2.5},{"t":2006.68,"v":0.3,"e":2.5},{"t":2006.70,"v":-1.5,"e":2.5},{"t":2006.72,"v":0.9,"e":2.5},{"t":2006.74,"v":-0.3,"e":2.5},{"t":2006.76,"v":1.2,"e":2.5},{"t":2006.78,"v":0.0,"e":2.5},{"t":2006.80,"v":-1.0,"e":2.5},{"t":2006.82,"v":1.2,"e":2.5},{"t":2006.84,"v":0.3,"e":2.5},{"t":2006.86,"v":1.5,"e":2.5},{"t":2006.88,"v":-0.9,"e":2.5},{"t":2006.90,"v":0.6,"e":2.5},{"t":2006.92,"v":1.2,"e":2.5},{"t":2006.94,"v":0.0,"e":2.5},{"t":2006.96,"v":-0.3,"e":2.5},{"t":2006.98,"v":0.9,"e":2.5},
{"t":2007.00,"v":-0.6,"e":2.5},{"t":2007.02,"v":0.3,"e":2.5},{"t":2007.04,"v":-4.2,"e":2.5},{"t":2007.06,"v":-1.2,"e":2.5},{"t":2007.07,"v":-6.0,"e":2.5},{"t":2007.09,"v":-1.8,"e":2.5},{"t":2007.11,"v":1.5,"e":2.5},{"t":2007.13,"v":-0.6,"e":2.5},{"t":2007.15,"v":-2.4,"e":2.5},{"t":2007.17,"v":-1.5,"e":2.5},{"t":2007.19,"v":-0.3,"e":2.5},{"t":2007.21,"v":-2.1,"e":2.5},{"t":2007.23,"v":-1.0,"e":2.5},{"t":2007.26,"v":-4.5,"e":2.5},{"t":2007.28,"v":-1.2,"e":2.5},{"t":2007.30,"v":-2.4,"e":2.5},{"t":2007.32,"v":-0.9,"e":2.5},{"t":2007.34,"v":-2.1,"e":2.5},{"t":2007.36,"v":-1.5,"e":2.5},{"t":2007.38,"v":-2.7,"e":2.5},{"t":2007.40,"v":-3.3,"e":2.5},{"t":2007.42,"v":-2.1,"e":2.5},{"t":2007.44,"v":-3.9,"e":2.5},{"t":2007.46,"v":-2.7,"e":2.5},{"t":2007.48,"v":-1.5,"e":2.5},{"t":2007.50,"v":-3.0,"e":2.5},{"t":2007.52,"v":-2.4,"e":2.5},{"t":2007.54,"v":-1.2,"e":2.5},{"t":2007.56,"v":-2.1,"e":2.5},{"t":2007.58,"v":-0.6,"e":2.5},{"t":2007.60,"v":-1.8,"e":2.5},{"t":2007.62,"v":-0.3,"e":2.5},{"t":2007.64,"v":-1.5,"e":2.5},{"t":2007.66,"v":0.3,"e":2.5},{"t":2007.68,"v":-0.9,"e":2.5},{"t":2007.70,"v":-0.3,"e":2.5},{"t":2007.72,"v":-1.2,"e":2.5},{"t":2007.74,"v":0.6,"e":2.5},{"t":2007.76,"v":-0.6,"e":2.5},{"t":2007.78,"v":0.3,"e":2.5},{"t":2007.80,"v":-1.2,"e":2.5},{"t":2007.82,"v":0.9,"e":2.5},{"t":2007.84,"v":3.0,"e":2.5},{"t":2007.86,"v":0.3,"e":2.5},{"t":2007.88,"v":-0.3,"e":2.5},{"t":2007.90,"v":0.6,"e":2.5},{"t":2007.92,"v":-0.9,"e":2.5},{"t":2007.94,"v":1.5,"e":2.5},{"t":2007.96,"v":0.0,"e":2.5},{"t":2007.98,"v":-0.6,"e":2.5},
{"t":2008.00,"v":1.2,"e":2.5},{"t":2008.02,"v":-0.3,"e":2.5},{"t":2008.04,"v":0.3,"e":2.5},{"t":2008.05,"v":-3.9,"e":2.5},{"t":2008.07,"v":0.6,"e":2.5},{"t":2008.09,"v":1.5,"e":2.5},{"t":2008.11,"v":-0.6,"e":2.5},{"t":2008.13,"v":-1.8,"e":2.5},{"t":2008.15,"v":-2.1,"e":2.5},{"t":2008.17,"v":-0.9,"e":2.5},{"t":2008.19,"v":-1.5,"e":2.5},{"t":2008.21,"v":-2.4,"e":2.5},{"t":2008.31,"v":-2.1,"e":3},{"t":2008.33,"v":-0.6,"e":2.5},{"t":2008.35,"v":-1.8,"e":2.5},{"t":2008.37,"v":-1.2,"e":2.5},{"t":2008.39,"v":-3.0,"e":2.5},{"t":2008.41,"v":-4.5,"e":2.5},{"t":2008.43,"v":-4.2,"e":2.5},{"t":2008.45,"v":-1.5,"e":2.5},{"t":2008.47,"v":-0.3,"e":2.5},{"t":2008.49,"v":-2.1,"e":2.5},{"t":2008.51,"v":-0.6,"e":2.5},{"t":2008.53,"v":-1.8,"e":2.5},{"t":2008.55,"v":-0.3,"e":2.5},{"t":2008.57,"v":-1.2,"e":2.5},{"t":2008.59,"v":-4.5,"e":2.5},{"t":2008.61,"v":-1.0,"e":2.5},{"t":2008.63,"v":-2.4,"e":2.5},{"t":2008.65,"v":-0.9,"e":2.5},{"t":2008.67,"v":0.0,"e":2.5},{"t":2008.69,"v":-1.8,"e":2.5},{"t":2008.71,"v":-0.6,"e":2.5},{"t":2008.73,"v":2.4,"e":2.5},{"t":2008.75,"v":-0.3,"e":2.5},{"t":2008.77,"v":-1.5,"e":2.5},{"t":2008.79,"v":-2.7,"e":2.5},{"t":2008.81,"v":-0.9,"e":2.5},{"t":2008.83,"v":-1.8,"e":2.5},{"t":2008.85,"v":0.0,"e":2.5},{"t":2008.87,"v":-0.6,"e":2.5},{"t":2008.89,"v":-1.5,"e":2.5},{"t":2008.91,"v":0.3,"e":2.5},{"t":2008.93,"v":2.4,"e":2.5},{"t":2008.95,"v":-0.9,"e":2.5},{"t":2008.97,"v":-0.3,"e":2.5},{"t":2008.99,"v":-1.5,"e":2.5},
{"t":2009.01,"v":-0.6,"e":2.5},{"t":2009.03,"v":-2.1,"e":2.5},{"t":2009.05,"v":-0.9,"e":2.5},{"t":2009.07,"v":-1.5,"e":2.5},{"t":2009.09,"v":-2.4,"e":2.5},{"t":2009.11,"v":-5.5,"e":2.5},{"t":2009.13,"v":-1.2,"e":2.5},{"t":2009.15,"v":-2.1,"e":2.5}
]
},
"vconcat": [
{
"width": 946, "height": 209,
"resolve": {"axis": {"x": "independent", "y": "independent"}},
"layer": [
{"data": {"values": [{}]}, "mark": {"type": "rule", "color": "#777", "strokeWidth": 1, "strokeDash": [2, 2]}, "encoding": {"y": {"datum": 0, "type": "quantitative", "scale": {"domain": [-27, 25.25], "nice": false, "zero": false}, "axis": null}}},
{"data": {"values": [{}]}, "mark": {"type": "rule", "color": "#aaa", "strokeWidth": 1, "strokeDash": [1, 5]}, "encoding": {"y": {"datum": 5.3, "type": "quantitative", "axis": null}}},
{"data": {"name": "sl"}, "mark": {"type": "line", "color": "#8a8a8a", "strokeWidth": 1.2, "strokeDash": [2, 1.5]},
 "encoding": {
  "x": {"field": "t", "type": "quantitative", "scale": {"domain": [1992.6, 2010], "nice": false, "zero": false}, "axis": {"orient": "bottom", "values": [1993,1994,1995,1996,1997,1998,1999,2000,2001,2002,2003,2004,2005,2006,2007,2008,2009,2010], "labels": false, "title": null}},
  "y": {"field": "a", "type": "quantitative", "scale": {"domain": [-27, 25.25], "nice": false, "zero": false}, "axis": {"orient": "left", "values": [-25, -20, -15, -10, -5, 0, 5, 10, 15, 20, 25], "labelExpr": "datum.value % 10 == 0 ? datum.label : ''", "title": "Sea Level (cm)"}}}},
{"data": {"name": "sl"}, "mark": {"type": "line", "color": "#6a6a6a", "strokeWidth": 1},
 "encoding": {
  "x": {"field": "t", "type": "quantitative", "axis": {"orient": "top", "values": [1993,1994,1995,1996,1997,1998,1999,2000,2001,2002,2003,2004,2005,2006,2007,2008,2009,2010], "labels": false, "title": null}},
  "y": {"field": "g", "type": "quantitative", "axis": {"orient": "right", "values": [-25, -20, -15, -10, -5, 0, 5, 10, 15, 20, 25], "labels": false, "title": null}}}},
{"data": {"values": [{}]}, "mark": {"type": "text", "align": "left", "baseline": "middle", "fontSize": 23, "font": "Liberation Sans", "color": "black"},
 "encoding": {"x": {"datum": 1993.19, "type": "quantitative", "axis": null}, "y": {"datum": 17, "type": "quantitative", "axis": null}, "text": {"value": "Pointe La Rue, Mahe, Seychelles"}}},
{"data": {"values": [{}]}, "mark": {"type": "text", "align": "left", "baseline": "middle", "fontSize": 17, "font": "Liberation Sans", "color": "black"},
 "encoding": {"x": {"datum": 1993.21, "type": "quantitative", "axis": null}, "y": {"datum": -22.5, "type": "quantitative", "axis": null}, "text": {"value": "RED = tide gauge;\u00a0 BLUE = altimetry"}}}
]
},
{
"width": 946, "height": 167,
"resolve": {"axis": {"x": "independent", "y": "independent"}},
"layer": [
{"data": {"values": [{}]}, "mark": {"type": "rule", "color": "#777", "strokeWidth": 1, "strokeDash": [2, 2]}, "encoding": {"y": {"datum": 0, "type": "quantitative", "scale": {"domain": [-15, 15], "nice": false, "zero": false}, "axis": null}}},
{"data": {"name": "trend"}, "mark": {"type": "line", "color": "#999", "strokeWidth": 1.5},
 "encoding": {
  "x": {"field": "t", "type": "quantitative", "scale": {"domain": [1992.6, 2010], "nice": false, "zero": false}, "axis": {"orient": "bottom", "values": [1993,1994,1995,1996,1997,1998,1999,2000,2001,2002,2003,2004,2005,2006,2007,2008,2009,2010], "labels": false, "title": null}},
  "y": {"field": "d", "type": "quantitative", "scale": {"domain": [-15, 15], "nice": false, "zero": false}, "axis": {"orient": "left", "values": [-15, -10, -5, 0, 5, 10, 15], "labelExpr": "datum.value % 10 == 0 ? datum.label : ''", "title": "Difference (cm)"}}}},
{"data": {"name": "diff"}, "mark": {"type": "circle", "color": "black", "size": 28, "opacity": 1},
 "encoding": {
  "x": {"field": "t", "type": "quantitative", "axis": {"orient": "top", "values": [1993,1994,1995,1996,1997,1998,1999,2000,2001,2002,2003,2004,2005,2006,2007,2008,2009,2010], "labels": false, "title": null}},
  "y": {"field": "d", "type": "quantitative", "axis": {"orient": "right", "values": [-15, -10, -5, 0, 5, 10, 15], "labels": false, "title": null}}}},
{"data": {"values": [{}]}, "mark": {"type": "text", "align": "left", "baseline": "middle", "fontSize": 20, "font": "Liberation Sans", "color": "black"},
 "encoding": {"x": {"datum": 1993.23, "type": "quantitative", "axis": null}, "y": {"datum": 10.5, "type": "quantitative", "axis": null}, "text": {"value": "Trend = -4.9 ± 0.5 mm/yr"}}}
]
},
{
"width": 946, "height": 166,
"resolve": {"axis": {"x": "independent", "y": "independent"}},
"layer": [
{"data": {"values": [{}]}, "mark": {"type": "rule", "color": "#888", "strokeWidth": 1, "strokeDash": [3, 1]}, "encoding": {"y": {"datum": 0, "type": "quantitative", "scale": {"domain": [-15, 15], "nice": false, "zero": false}, "axis": null}}},
{"data": {"name": "doris"}, "mark": {"type": "errorbar", "color": "#9a9a9a", "thickness": 1, "rule": {"strokeDash": [1, 1.5]}},
 "encoding": {
  "x": {"field": "t", "type": "quantitative", "scale": {"domain": [1992.6, 2010], "nice": false, "zero": false}, "axis": {"orient": "bottom", "values": [1993,1994,1995,1996,1997,1998,1999,2000,2001,2002,2003,2004,2005,2006,2007,2008,2009,2010], "labelExpr": "datum.value % 2 == 0 ? format(datum.value, 'd') : ''", "labelPadding": 7, "title": null}},
  "y": {"field": "v", "type": "quantitative", "scale": {"domain": [-15, 15], "nice": false, "zero": false}, "axis": {"orient": "left", "values": [-15, -10, -5, 0, 5, 10, 15], "labelExpr": "datum.value % 10 == 0 ? datum.label : ''", "title": "Vertical (cm)"}},
  "yError": {"field": "e"}}},
{"data": {"name": "doris"}, "mark": {"type": "circle", "color": "black", "size": 28, "opacity": 1},
 "encoding": {
  "x": {"field": "t", "type": "quantitative", "axis": {"orient": "top", "values": [1993,1994,1995,1996,1997,1998,1999,2000,2001,2002,2003,2004,2005,2006,2007,2008,2009,2010], "labels": false, "title": null}},
  "y": {"field": "v", "type": "quantitative", "axis": {"orient": "right", "values": [-15, -10, -5, 0, 5, 10, 15], "labels": false, "title": null}}}},
{"data": {"values": [{}]}, "mark": {"type": "text", "align": "left", "baseline": "middle", "fontSize": 20, "font": "Liberation Sans", "color": "black"},
 "encoding": {"x": {"datum": 1993.19, "type": "quantitative", "axis": null}, "y": {"datum": 10.7, "type": "quantitative", "axis": null}, "text": {"value": "DORIS station\u00a0\u00a0 mahb"}}}
]
}
],
"config": {
 "font": "Liberation Sans",
 "view": {"stroke": "black", "strokeWidth": 1.5},
 "axis": {"domain": false, "tickColor": "black", "tickSize": 4, "tickWidth": 1, "labelFont": "Liberation Sans", "labelFontSize": 19, "labelColor": "black", "labelPadding": 10, "titleFont": "Liberation Sans", "titleFontSize": 20, "titleFontWeight": "normal", "titleColor": "black", "titlePadding": 12, "grid": false}
}
}
